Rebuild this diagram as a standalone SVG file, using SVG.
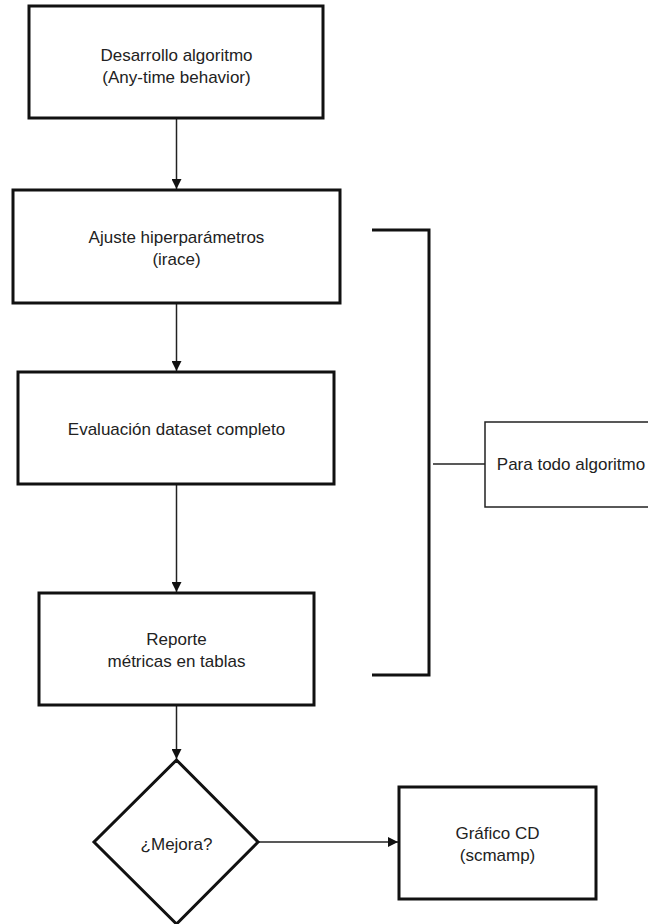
<svg xmlns="http://www.w3.org/2000/svg" width="648" height="924" viewBox="0 0 648 924">
<style>
.box{fill:#fff;stroke:#111;stroke-width:3}
.thin{fill:#fff;stroke:#222;stroke-width:1.5}
.lbl{font-family:"Liberation Sans",Arial,sans-serif;font-size:17px;fill:#222;text-anchor:middle}
.edge{stroke:#222;stroke-width:1.5;fill:none}
.brk{stroke:#111;stroke-width:3;fill:none}
</style>
<defs>
<marker id="arr" viewBox="0 0 10 10" refX="10" refY="5" markerWidth="7" markerHeight="7" markerUnits="userSpaceOnUse" orient="auto">
<path d="M0,0 L10,5 L0,10 z" fill="#111"/>
</marker>
<marker id="arrB" viewBox="0 0 10 10" refX="10" refY="5" markerWidth="10" markerHeight="10" orient="auto" markerUnits="userSpaceOnUse">
<path d="M0,0 L10,5 L0,10 z" fill="#111"/>
</marker>
</defs>
<rect width="648" height="924" fill="#fff"/>
<g id="connectors">
<line class="edge" x1="176.5" y1="118" x2="176.5" y2="189" marker-end="url(#arrB)"/>
<line class="edge" x1="176.5" y1="303" x2="176.5" y2="371" marker-end="url(#arrB)"/>
<line class="edge" x1="176.5" y1="484" x2="176.5" y2="592" marker-end="url(#arrB)"/>
<line class="edge" x1="176.5" y1="705" x2="176.5" y2="759" marker-end="url(#arrB)"/>
<line class="edge" x1="258" y1="842" x2="398" y2="842" marker-end="url(#arrB)"/>
<line class="edge" x1="433" y1="464" x2="485" y2="464"/>
</g>
<g id="bracket">
<polyline class="brk" points="372,230 429,230 429,675 372,675"/>
</g>
<g id="n1">
<rect class="box" x="29" y="6" width="294" height="112"/>
<text class="lbl" x="176.5" y="61">Desarrollo algoritmo</text>
<text class="lbl" x="176.5" y="83">(Any-time behavior)</text>
</g>
<g id="n2">
<rect class="box" x="13" y="190" width="327" height="113"/>
<text class="lbl" x="176.5" y="243">Ajuste hiperparámetros</text>
<text class="lbl" x="176.5" y="265">(irace)</text>
</g>
<g id="n3">
<rect class="box" x="18" y="372" width="316" height="112"/>
<text class="lbl" x="176.5" y="435">Evaluación dataset completo</text>
</g>
<g id="n4">
<rect class="box" x="39" y="593" width="275" height="112"/>
<text class="lbl" x="176.5" y="645">Reporte</text>
<text class="lbl" x="176.5" y="667">métricas en tablas</text>
</g>
<g id="n5">
<polygon class="box" points="176.5,760 258,842 176.5,924 94,842"/>
<text class="lbl" x="176.5" y="850">¿Mejora?</text>
</g>
<g id="n6">
<rect class="box" x="399" y="787" width="197" height="112"/>
<text class="lbl" x="497.5" y="839">Gráfico CD</text>
<text class="lbl" x="497.5" y="861">(scmamp)</text>
</g>
<g id="n7">
<rect class="thin" x="485" y="422" width="172" height="85"/>
<text class="lbl" x="571" y="470">Para todo algoritmo</text>
</g>
</svg>
